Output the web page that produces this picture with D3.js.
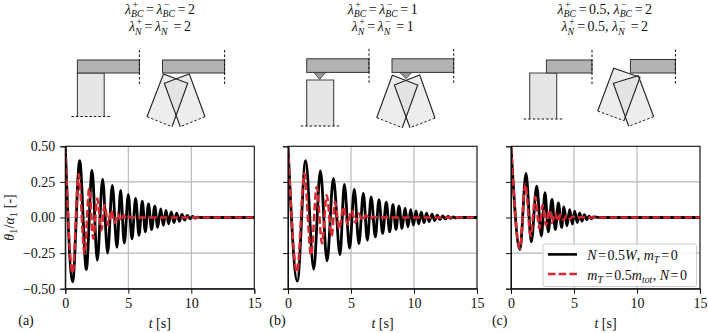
<!DOCTYPE html>
<html>
<head>
<meta charset="utf-8">
<script src="https://cdn.jsdelivr.net/npm/d3@7"></script>
<style>
body { margin: 0; background: #fff; }
text { font-family: "Liberation Serif", serif; fill: #111; white-space: pre; }
</style>
</head>
<body>
<div id="chart"></div>
<script>
// peaks and troughs, the curve goes through these
const tBlackA = [0,.58,1.14,1.67,2.12,2.54,2.96,3.36,3.73,4.1,4.39,4.68,5,5.29,5.58,5.85,6.11,6.35,6.6,6.85,7.1,7.33,7.57,7.78,7.99,8.2,8.41,8.62,8.84,9.05,9.26,9.47,9.68,9.89,10.1,10.3,10.5,10.8,15];
const vBlackA = [.5,-.452,.4,-.365,.33,-.3,.27,-.25,.225,-.21,.19,-.18,.16,-.15,.135,-.125,.115,-.1,.095,-.085,.08,-.07,.06,-.055,.05,-.045,.04,-.035,.03,-.027,.022,-.018,.014,-.01,.007,-.004,.002,0,0];
const tRedA = [0,.58,1.06,1.53,1.9,2.22,2.54,2.86,3.12,3.41,3.65,3.92,4.15,4.39,4.63,4.87,5.1,5.4,15];
const vRedA = [.5,-.39,.305,-.253,.204,-.148,.133,-.09,.087,-.054,.05,-.037,.028,-.023,.015,-.01,.006,0,0];

const tBlackB = [0,.74,1.4,2.04,2.57,3.1,3.6,4.13,4.47,4.89,5.26,5.63,5.98,6.3,6.6,6.93,7.22,7.51,7.8,8.07,8.33,8.57,8.81,9.05,9.29,9.52,9.74,9.95,10.16,10.37,10.58,10.79,11,11.2,11.43,11.64,11.85,12.06,12.27,12.49,12.7,12.9,13.1,13.33,13.6,15];
const vBlackB = [.5,-.447,.4,-.363,.328,-.305,.274,-.26,.232,-.215,.197,-.183,.169,-.16,.145,-.136,.126,-.112,.108,-.1,.09,-.084,.08,-.077,.066,-.066,.056,-.054,.046,-.044,.038,-.036,.03,-.028,.023,-.021,.017,-.015,.012,-.01,.008,-.006,.004,-.002,0,0];
const tRedB = [0,.72,1.3,1.83,2.28,2.7,3.07,3.47,3.73,4.07,4.39,4.74,5.05,5.34,5.62,5.9,6.2,6.5,6.8,7.2,15];
const vRedB = [.5,-.385,.31,-.265,.215,-.183,.157,-.13,.11,-.08,.075,-.05,.05,-.035,.028,-.02,.015,-.01,.005,0,0];

const tBlackC = [0,.71,1.19,1.61,2.04,2.41,2.7,2.96,3.25,3.52,3.76,4.02,4.2,4.44,4.66,4.87,5.05,5.26,5.45,5.63,5.82,6,6.19,6.38,6.56,7,15];
const vBlackC = [.5,-.225,.31,-.171,.22,-.13,.174,-.1,.127,-.085,.103,-.07,.075,-.059,.056,-.047,.045,-.035,.03,-.025,.02,-.015,.01,-.007,.004,0,0];
const tRedC = [0,.71,1.14,1.56,1.93,2.25,2.51,2.78,3.02,3.25,3.49,3.73,3.94,4.18,4.42,4.66,4.9,5.13,5.4,5.8,15];
const vRedC = [.5,-.218,.235,-.131,.145,-.077,.087,-.054,.052,-.037,.033,-.026,.021,-.018,.014,-.01,.007,-.004,.002,0,0];

const xTicks = [0, 5, 10, 15];
const yTicks = [-.5, -.25, 0, .25, .5];
const panelNames = ["(a)", "(b)", "(c)"];

const black = "#000", red = "#d8282f";

const svg = d3.select("#chart")
    .append("svg")
    .attr("width", 708)
    .attr("height", 333)
    .style("display", "block");

// pieces of a formula are laid out one after the other, so sub and sup can stack
function formula(x, y, parts, size, anchor) {
    const g = svg.append("g");
    const small = size * .7;
    let cur = 0;
    parts.forEach(function (p) {
        if (p.sup !== undefined) {
            const a = g.append("text").attr("x", cur + 1.5).attr("y", -6).attr("font-size", small).text(p.sup);
            const b = g.append("text").attr("x", cur).attr("y", 3.5).attr("font-size", small).attr("font-style", "italic").text(p.sub);
            cur += Math.max(a.node().getComputedTextLength() + 1.5, b.node().getComputedTextLength()) + .5;
        } else if (p.sub !== undefined) {
            const b = g.append("text").attr("x", cur).attr("y", 3).attr("font-size", small).attr("font-style", p.it ? "italic" : "normal").text(p.sub);
            cur += b.node().getComputedTextLength() + .5;
        } else if (p.gap !== undefined) {
            cur += p.gap;
        } else {
            const t = g.append("text").attr("x", cur).attr("font-size", size).attr("font-style", p.it ? "italic" : "normal").text(p.t);
            cur += t.node().getComputedTextLength();
        }
    });
    const shift = anchor === "middle" ? x - cur / 2 : x;
    g.attr("transform", "translate(" + shift + "," + y + ")");
    return g;
}

function lam(sign, sub) { return [{t: "λ", it: true}, {sup: sign, sub: sub}]; }
const eq = [{gap: 2}, {t: "="}, {gap: 2.5}];
const eqSmall = [{gap: 1.5}, {t: "="}, {gap: 1.5}];

const titleSize = 14;
formula(160, 13.5, [...lam("+", "BC"), ...eq, ...lam("−", "BC"), ...eq, {t: "2"}], titleSize, "middle");
formula(160, 31, [...lam("+", "N"), ...eq, ...lam("−", "N"), {gap: 3}, ...eq, {t: "2"}], titleSize, "middle");
formula(382.7, 13.5, [...lam("+", "BC"), ...eq, ...lam("−", "BC"), ...eq, {t: "1"}], titleSize, "middle");
formula(382.7, 31, [...lam("+", "N"), ...eq, ...lam("−", "N"), {gap: 3}, ...eq, {t: "1"}], titleSize, "middle");
formula(604.8, 13.5, [...lam("+", "BC"), ...eq, {t: "0.5, "}, ...lam("−", "BC"), ...eq, {t: "2"}], titleSize, "middle");
formula(604.8, 31, [...lam("+", "N"), ...eq, {t: "0.5, "}, ...lam("−", "N"), {gap: 3}, ...eq, {t: "2"}], titleSize, "middle");

// little frame sketches above the plots
const sketch = svg.append("g");

function beam(x0, x1, y0, y1) {
    sketch.append("rect").attr("x", x0).attr("y", y0).attr("width", x1 - x0).attr("height", y1 - y0)
        .attr("fill", "#b2b2b2").attr("stroke", "#333").attr("stroke-width", 1);
    sketch.append("line").attr("x1", x1).attr("x2", x1).attr("y1", y0 - 10).attr("y2", y1 + 12)
        .attr("stroke", "#111").attr("stroke-width", 1).attr("stroke-dasharray", "2.5,2");
}

function column(x0, x1, y0, y1) {
    sketch.append("rect").attr("x", x0).attr("y", y0).attr("width", x1 - x0).attr("height", y1 - y0)
        .attr("fill", "#e6e6e6");
    sketch.append("path").attr("d", "M" + x0 + "," + y1 + "V" + y0 + "H" + x1 + "V" + y1)
        .attr("fill", "none").attr("stroke", "#444").attr("stroke-width", 1.1);
    sketch.append("line").attr("x1", x0 - 6).attr("x2", x1 + 6).attr("y1", y1).attr("y2", y1)
        .attr("stroke", "#111").attr("stroke-width", 1).attr("stroke-dasharray", "2.5,2");
}

// two tilted columns, corners go top, side down, bottom, other side
// fills first so both outlines stay on top
function rocked(shapes) {
    shapes.forEach(function (c) {
        sketch.append("polygon").attr("points", c.map(function (p) { return p.join(","); }).join(" "))
            .attr("fill", "#dcdcdc").attr("fill-opacity", .5);
    });
    shapes.forEach(function (c) {
        sketch.append("path").attr("d", "M" + c[1] + "L" + c[0] + "L" + c[3] + "L" + c[2])
            .attr("fill", "none").attr("stroke", "#222").attr("stroke-width", 1.1);
        sketch.append("line").attr("x1", c[1][0]).attr("y1", c[1][1]).attr("x2", c[2][0]).attr("y2", c[2][1])
            .attr("stroke", "#222").attr("stroke-width", 1).attr("stroke-dasharray", "2.5,2");
    });
}

function wedge(x0, x1, y0, y1) {
    sketch.append("polygon").attr("points", [[x0, y0], [x1, y0], [(x0 + x1) / 2, y1]].join(" "))
        .attr("fill", "#999").attr("stroke", "#333").attr("stroke-width", .8);
}

// (a)
column(77.4, 104.2, 73, 116.5);
beam(77.4, 139.4, 60, 73);
rocked([
    [[163.5, 74], [147, 116.7], [172, 126.7], [187.7, 83.3]],
    [[189.3, 74], [205, 116.7], [180.3, 126.7], [164.3, 83.3]]
]);
beam(162.5, 224.6, 60, 73);

// (b)
column(306.7, 333.7, 80, 126);
beam(306.7, 369, 58.8, 72.4);
wedge(314, 325.4, 72.6, 79.4);
rocked([
    [[392.3, 75.3], [376.7, 117.7], [402.3, 127.7], [417.7, 85]],
    [[419.7, 75], [435, 118], [410, 127.7], [394.3, 85]]
]);
beam(392, 453.7, 58.8, 72.4);
wedge(400, 411.7, 72.6, 78.7);

// (c)
column(529.7, 556.7, 73, 119);
beam(546.4, 592, 60, 73);
rocked([
    [[613.7, 68.3], [597.7, 111], [624, 120.7], [640, 77.3]],
    [[638.3, 75.7], [653.7, 116.7], [628.7, 126.3], [613.3, 83.3]]
]);
beam(630.4, 675.4, 59.5, 73);

// plots
const panelX = [[65.3, 254.3], [288, 477], [511, 700]];
const letterX = [26, 277.5, 499.7];
const yRange = [288.7, 146.3];
const series = [
    [tBlackA, vBlackA, tRedA, vRedA],
    [tBlackB, vBlackB, tRedB, vRedB],
    [tBlackC, vBlackC, tRedC, vRedC]
];

panelX.forEach(function (range, i) {
    const x = d3.scaleLinear().domain([0, 15]).range(range);
    const y = d3.scaleLinear().domain([-.5, .5]).range(yRange);
    const g = svg.append("g");

    g.append("clipPath").attr("id", "clip" + i).append("rect")
        .attr("x", range[0]).attr("y", yRange[1]).attr("width", range[1] - range[0]).attr("height", yRange[0] - yRange[1]);

    // grid
    g.selectAll(".gx").data(xTicks).enter().append("line")
        .attr("x1", function (d) { return x(d); }).attr("x2", function (d) { return x(d); })
        .attr("y1", yRange[0]).attr("y2", yRange[1])
        .attr("stroke", "#b5b5b5").attr("stroke-width", 1.1);
    g.selectAll(".gy").data(yTicks).enter().append("line")
        .attr("x1", range[0]).attr("x2", range[1])
        .attr("y1", function (d) { return y(d); }).attr("y2", function (d) { return y(d); })
        .attr("stroke", "#b5b5b5").attr("stroke-width", 1.1);

    const line = d3.line()
        .x(function (d) { return x(d[0]); })
        .y(function (d) { return y(d[1]); })
        .curve(d3.curveMonotoneX);

    const s = series[i];
    g.append("path").attr("d", line(d3.zip(s[0], s[1])))
        .attr("fill", "none").attr("stroke", black).attr("stroke-width", 2.8)
        .attr("clip-path", "url(#clip" + i + ")");
    g.append("path").attr("d", line(d3.zip(s[2], s[3])))
        .attr("fill", "none").attr("stroke", red).attr("stroke-width", 2.5).attr("stroke-dasharray", "7.5,3.2")
        .attr("clip-path", "url(#clip" + i + ")");

    // frame + ticks
    const xAxis = g.append("g")
        .attr("transform", "translate(0," + yRange[0] + ")")
        .call(d3.axisBottom(x).tickValues(xTicks).tickFormat(d3.format("d")).tickSize(5).tickPadding(4));
    const yAxis = g.append("g")
        .attr("transform", "translate(" + range[0] + ",0)")
        .call(d3.axisLeft(y).tickValues(yTicks).tickFormat(i === 0 ? d3.format(".2f") : "").tickSize(5).tickPadding(5));
    [xAxis, yAxis].forEach(function (a) {
        a.selectAll("text").style("font-family", '"Liberation Serif", serif').style("font-size", "14px").attr("fill", "#111");
        a.selectAll("line").attr("stroke", "#111");
        a.select(".domain").attr("stroke", "#111");
    });
    g.append("rect")
        .attr("x", range[0]).attr("y", yRange[1])
        .attr("width", range[1] - range[0]).attr("height", yRange[0] - yRange[1])
        .attr("fill", "none").attr("stroke", "#111").attr("stroke-width", 1);

    // x label and panel letter
    const mid = (range[0] + range[1]) / 2;
    formula(mid, 328, [{t: "t", it: true}, {t: " [s]"}], 14, "middle");
    svg.append("text").attr("x", letterX[i]).attr("y", 325).attr("text-anchor", "middle")
        .attr("font-size", 14).text(panelNames[i]);
});

// y label
const yLabel = formula(0, 0, [{t: "θ", it: true}, {sub: "1", it: false}, {t: "/"}, {t: "α", it: true}, {sub: "1", it: false}, {t: " [-]"}], 14, "middle");
yLabel.attr("transform", "translate(14,217.5) rotate(-90) " + yLabel.attr("transform"));

// legend
svg.append("rect").attr("x", 543).attr("y", 244).attr("width", 153.5).attr("height", 42.5).attr("rx", 2)
    .attr("fill", "#fff").attr("fill-opacity", .85).attr("stroke", "#ccc").attr("stroke-width", 1);
svg.append("line").attr("x1", 548).attr("x2", 577).attr("y1", 254.4).attr("y2", 254.4)
    .attr("stroke", black).attr("stroke-width", 2.6);
svg.append("line").attr("x1", 548).attr("x2", 577).attr("y1", 274).attr("y2", 274)
    .attr("stroke", red).attr("stroke-width", 2.4).attr("stroke-dasharray", "7.5,3.2");
formula(587.3, 260, [{t: "N", it: true}, ...eqSmall, {t: "0.5"}, {t: "W", it: true}, {t: ", "}, {t: "m", it: true}, {sub: "T", it: true}, ...eqSmall, {t: "0"}], 14);
formula(587.3, 280, [{t: "m", it: true}, {sub: "T", it: true}, ...eqSmall, {t: "0.5"}, {t: "m", it: true}, {sub: "tot", it: true}, {t: ", "}, {t: "N", it: true}, ...eqSmall, {t: "0"}], 14);
</script>
</body>
</html>
